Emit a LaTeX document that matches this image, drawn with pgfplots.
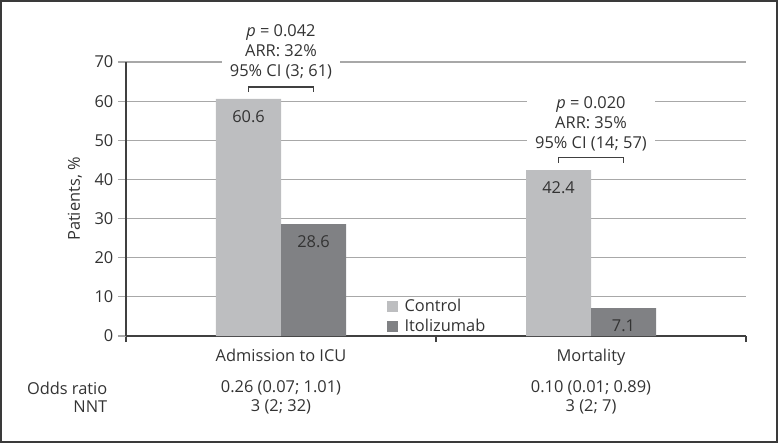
\documentclass[border=0pt]{standalone}
\usepackage{pgfplots}
\pgfplotsset{compat=1.18}
\usepackage{fontspec}
\setmainfont{Open Sans}

\definecolor{ctrl}{HTML}{BDBEC0}
\definecolor{itol}{HTML}{808184}
\definecolor{gridc}{HTML}{A8A8A8}
\definecolor{txt}{HTML}{333333}
\definecolor{axc}{HTML}{404040}
\definecolor{framec}{HTML}{3A3A3A}

\pgfplotsset{
  sqlegend/.style={legend image code/.code={\fill[##1] (0pt,-4.1pt) rectangle (8.25pt,4.1pt); \path (11pt,0pt);}}
}

\begin{document}
\begin{tikzpicture}[font=\fontsize{12.3}{15}\selectfont, text=txt]
\begin{axis}[
  scale only axis, width=465pt, height=205.5pt,
  xmin=-0.5, xmax=1.5, ymin=0, ymax=70,
  ybar=0pt, bar width=48.75pt,
  axis x line*=bottom, axis y line*=left,
  axis line style={axc, line width=0.9pt},
  ytick={0,10,...,70},
  ymajorgrids, grid style={gridc, line width=0.9pt},
  tick align=outside,
  major tick length=6pt, minor tick length=4.5pt,
  ytick style={gridc, line width=0.9pt},
  xtick={0,1}, xticklabels={Admission to ICU, Mortality},
  major x tick style={draw=none},
  minor xtick={-0.5,0.5,1.5},
  minor x tick style={axc, line width=0.9pt},
  ylabel={Patients, \%},
  ylabel style={at={(axis description cs:-0.0823,0.5)}, anchor=center},
  /pgf/number format/assume math mode=true,
  nodes near coords,
  nodes near coords style={/pgf/number format/fixed, /pgf/number format/precision=1, /pgf/number format/fixed zerofill},
  every node near coord/.append style={anchor=center, yshift=-13.5pt, text=txt},
  legend style={at={(rel axis cs:0.4210,0.1450)}, anchor=north west, draw=none, fill=none,
    inner sep=0pt, row sep=0pt, cells={anchor=west}},
  clip=false,
]
\addplot[fill=ctrl, draw=none, sqlegend] coordinates {(0,60.6) (1,42.4)};
\addplot[fill=itol, draw=none, sqlegend] coordinates {(0,28.6) (1,7.1)};
\legend{Control, Itolizumab}

% significance brackets
\draw[axc, line width=0.9pt] (axis cs:-0.105,62.3) |- (axis cs:0.105,63.6) -- (axis cs:0.105,62.3);
\draw[axc, line width=0.9pt] (axis cs:0.895,44.2) |- (axis cs:1.105,45.7) -- (axis cs:1.105,44.2);
\node[fill=white, align=center, inner xsep=6pt, inner ysep=1pt] at (axis cs:0,72.6)
  {\textit{p} = 0.042\\ARR: 32\%\\95\% CI (3; 61)};
\node[fill=white, align=center, inner xsep=6pt, inner ysep=1pt] at (axis cs:1,54.2)
  {\textit{p} = 0.020\\ARR: 35\%\\95\% CI (14; 57)};

% table under the axis
\node[anchor=east, xshift=-10.5pt, yshift=-39pt] at (rel axis cs:0,0) {Odds ratio};
\node[anchor=east, xshift=-10.5pt, yshift=-53.25pt] at (rel axis cs:0,0) {NNT};
\node[yshift=-39pt] at (axis cs:0,0) {0.26 (0.07; 1.01)};
\node[yshift=-53.25pt] at (axis cs:0,0) {3 (2; 32)};
\node[yshift=-39pt] at (axis cs:1,0) {0.10 (0.01; 0.89)};
\node[yshift=-53.25pt] at (axis cs:1,0) {3 (2; 7)};
\end{axis}
\draw[line width=1.5pt, framec] (-93.75pt,-79.5pt) rectangle (488.25pt,251.25pt);
\end{tikzpicture}
\end{document}
